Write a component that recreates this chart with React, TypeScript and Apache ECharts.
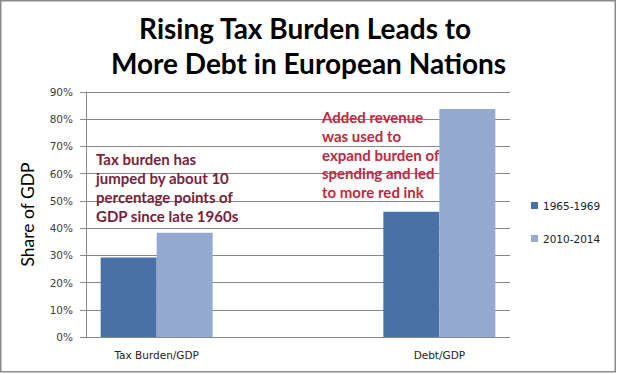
import React, { useEffect, useRef } from "react";
import * as echarts from "echarts";

const categories = ["Tax Burden/GDP", "Debt/GDP"];
const series1965 = [29.2, 46.0];
const series2010 = [38.3, 83.8];
const seriesNames = ["1965-1969", "2010-2014"];
const yTicks = [0, 10, 20, 30, 40, 50, 60, 70, 80, 90];
const titleLines = ["Rising Tax Burden Leads to ", "More Debt in European Nations"];
const noteTax = ["Tax burden has", "jumped by about 10", "percentage points of", "GDP since late 1960s"];
const noteDebt = ["Added revenue", "was used to", "expand burden of", "spending and led", "to more red ink"];

// categories sit at slots 1 and 5 of a 7-slot axis (Excel-like spacing)
const slotIndex = [1, 5];
const slotCount = 7;
const axisData: string[] = Array.from({ length: slotCount }, () => "");
slotIndex.forEach((s, i) => (axisData[s] = categories[i]));
const spread = (vals: number[]) => {
  const out: (number | string)[] = Array.from({ length: slotCount }, () => "-");
  slotIndex.forEach((s, i) => (out[s] = vals[i]));
  return out;
};

export default function App() {
  const ref = useRef<HTMLDivElement>(null);
  useEffect(() => {
    document.body.style.margin = "0";
    const chart = echarts.init(ref.current!, undefined, { renderer: "svg" });
    const labelFont = { fontFamily: "DejaVu Sans", fontSize: 10.5, color: "#404040" };
    chart.setOption({
      animation: false,
      backgroundColor: "#ffffff",
      title: {
        text: titleLines.join("\n"),
        left: "center",
        top: 5,
        textStyle: {
          fontFamily: "Lato",
          fontWeight: "bold",
          fontSize: 28,
          lineHeight: 35,
          color: "#000000",
        },
      },
      legend: {
        orient: "vertical",
        left: 526,
        top: 195,
        itemWidth: 7,
        itemHeight: 7,
        itemGap: 22,
        icon: "rect",
        data: seriesNames,
        textStyle: { ...labelFont, color: "#222" },
      },
      grid: { left: 86, right: 107, top: 92, bottom: 37 },
      xAxis: {
        type: "category",
        data: axisData,
        boundaryGap: false,
        axisLine: { lineStyle: { color: "#878787" } },
        axisTick: { show: false },
        axisLabel: { ...labelFont, interval: 0, margin: 12, color: "#222" },
        splitLine: { show: false },
      },
      yAxis: {
        type: "value",
        min: yTicks[0],
        max: yTicks[yTicks.length - 1],
        interval: 10,
        name: "Share of GDP",
        nameLocation: "middle",
        nameGap: 50,
        nameTextStyle: { fontFamily: "Lato", fontSize: 17.5, color: "#000" },
        axisLine: { show: true, lineStyle: { color: "#878787" } },
        axisTick: { show: true, length: 6, lineStyle: { color: "#878787" } },
        axisLabel: { ...labelFont, margin: 13, formatter: "{value}%" },
        splitLine: { lineStyle: { color: "#878787", width: 1 } },
      },
      series: [
        {
          name: seriesNames[0],
          type: "bar",
          data: spread(series1965),
          barWidth: 56,
          barGap: "0%",
          itemStyle: { color: "#4771A7" },
        },
        {
          name: seriesNames[1],
          type: "bar",
          data: spread(series2010),
          barWidth: 56,
          barGap: "0%",
          itemStyle: { color: "#93A9CF" },
        },
      ],
      graphic: [
        {
          type: "rect",
          silent: true,
          shape: { x: 0.75, y: 0.75, width: 614.5, height: 371 },
          style: { fill: "none", stroke: "#8a8a8a", lineWidth: 1.5 },
          z: 100,
        },
        {
          type: "text",
          left: 96,
          top: 149,
          style: {
            text: noteTax.join("\n"),
            fontFamily: "Lato",
            fontWeight: "bold",
            fontSize: 15,
            lineHeight: 19,
            fill: "#7A1E3C",
          },
          z: 50,
        },
        {
          type: "text",
          left: 322,
          top: 108,
          style: {
            text: noteDebt.join("\n"),
            fontFamily: "Lato",
            fontWeight: "bold",
            fontSize: 15,
            lineHeight: 18.6,
            fill: "#C3283F",
          },
          z: 50,
        },
      ],
    });
    return () => chart.dispose();
  }, []);
  return (
    <div
      ref={ref}
      style={{ position: "absolute", left: 0, top: 0, width: 617, height: 374 }}
    />
  );
}
